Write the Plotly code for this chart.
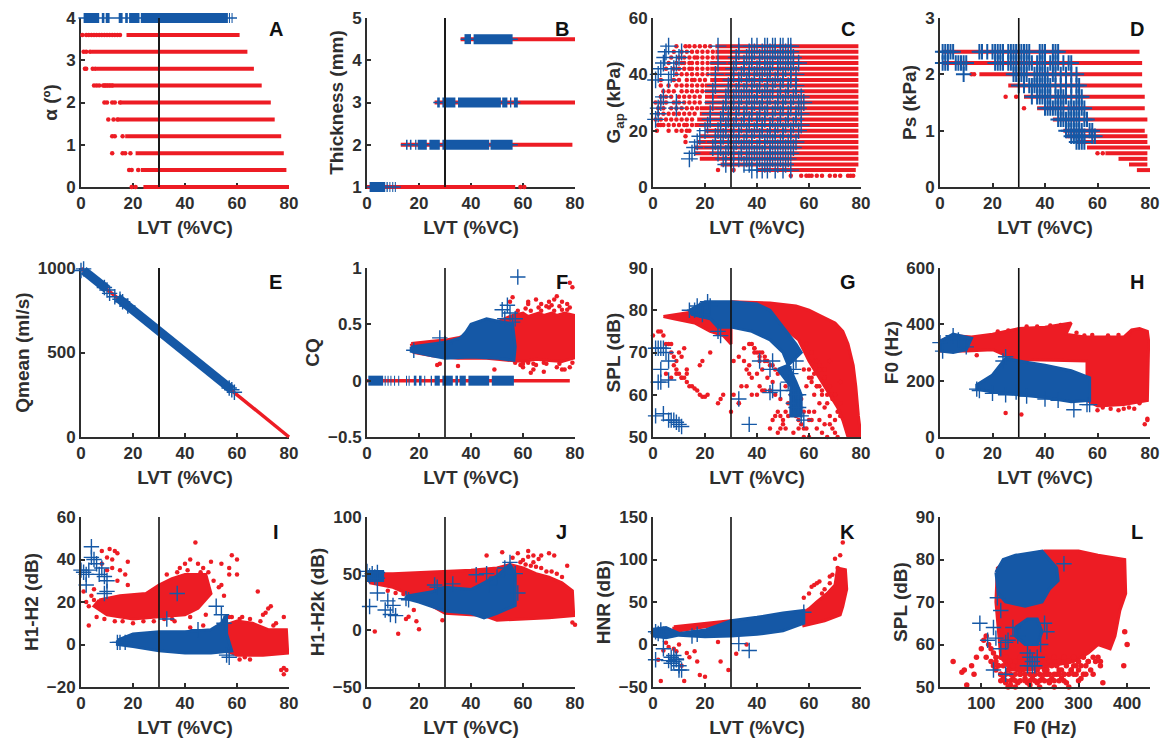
import plotly.graph_objects as go

RED = "#ED1C24"
BLUE = "#1558A6"
INK = "#2E2E2E"
W, H = 1168, 745

# ---------- A ----------
a_levels = [3.6, 3.2, 2.8, 2.4, 2.0, 1.6, 1.2, 0.8, 0.4, 0.0]
a_start = [17.5, 4, 6, 10, 15, 14, 17, 21, 23, 24]
a_end = [61, 64, 66.5, 69.5, 73, 74.5, 77, 78, 79, 80]
a_dots_x = [0.5, 2, 3, 4, 5, 6, 7, 8, 9, 10, 11, 12, 13, 14, 15, 1, 2, 3.5, 1.5, 2, 4.5, 5.5, 5, 6, 7, 8.5, 9, 9.5, 10, 11, 12, 9, 10, 12, 13, 15, 10.5, 12.5, 14, 12, 13, 16, 12, 16, 17, 19, 18.5, 19.5, 22, 19.5, 21]
a_dots_y = [3.6, 3.6, 3.6, 3.6, 3.6, 3.6, 3.6, 3.6, 3.6, 3.6, 3.6, 3.6, 3.6, 3.6, 3.6, 3.2, 3.2, 3.2, 2.8, 2.8, 2.8, 2.8, 2.4, 2.4, 2.4, 2.4, 2.4, 2.4, 2.4, 2.4, 2.4, 2.0, 2.0, 2.0, 2.0, 2.0, 1.6, 1.6, 1.6, 1.2, 1.2, 1.2, 0.8, 0.8, 0.8, 0.8, 0.4, 0.4, 0.4, 0.0, 0.0]
a_blue_start = [1, 8, 9.5, 14.5, 17, 18.5, 23, 56.9, 57.9]
a_blue_end = [7, 9, 11, 16, 18, 22.5, 56.5, 57.3, 58.3]

# ---------- B ----------
b_levels = [1, 2, 3, 4.5]
b_red_start = [0, 13, 26, 36]
b_red_end = [57, 79, 80, 80]
b_thin_start = [0, 13, 25.5, 36]
b_thin_end = [13, 58, 59, 58]
b_dots_x = [59, 60.5]
b_dots_y = [1, 1]
b_blue_start = [1, 7.5, 8.6, 9.7, 10.7, 15, 16.5, 18.5, 19.5, 24, 29, 47.5, 27, 29, 35, 52, 55, 56.5, 37.5, 41]
b_blue_end = [7, 8, 9, 10.1, 11.1, 15.6, 17.1, 19, 23, 28, 47, 56, 28, 34, 51.5, 54, 55.5, 58, 40, 56]
b_blue_y = [1, 1, 1, 1, 1, 2, 2, 2, 2, 2, 2, 2, 3, 3, 3, 3, 3, 3, 4.5, 4.5]

# ---------- C ----------
c_levels = [50, 48, 46, 44, 42, 40, 38, 36, 34, 32, 30, 28, 26, 24, 22, 20, 18, 16, 14, 12, 10, 8, 6]
c_start = [24, 24, 24, 22, 22, 22, 22, 20, 20, 20, 20, 18, 18, 17, 16, 20, 18, 17, 16, 16, 18, 26, 40]
c_end = [79, 79, 79, 79, 79, 79, 79, 79, 79, 79, 79, 79, 79, 79, 79, 79, 79, 79, 79, 79, 79, 79, 78]
c_dots_x = [9, 12.5, 14, 16, 18, 20, 22, 8, 11, 13, 15, 17, 19, 21, 23, 7, 10, 12, 14, 16, 17, 19, 21, 23, 6, 9, 11, 12, 14, 15, 17, 19, 21, 5, 8, 10, 12, 14, 15, 17, 19, 21, 9, 11, 13, 15, 17, 19, 21, 3, 8, 10, 13, 15, 16, 18, 20, 3, 6, 9, 11, 13, 15, 17, 19, 4, 6, 8, 11, 13, 15, 17, 19, 3, 5, 7, 10, 12, 14, 16, 18, 1, 3, 5, 8, 10, 12, 14, 16, 18, 2, 4, 7, 9, 11, 13, 15, 17, 2, 4, 6, 8, 10, 12, 14, 16, 1, 3, 5, 7, 9, 11, 13, 15, 2, 3, 4, 6, 8, 10, 12, 13, 15, 1.5, 6, 9, 11, 13, 14, 12.5, 12.5, 25, 31, 53, 57, 59, 60, 61, 63, 65, 68, 70, 72, 75, 76, 77]
c_dots_y = [50]*7 + [48]*8 + [46]*9 + [44]*9 + [42]*9 + [40]*7 + [38]*8 + [36]*8 + [34]*8 + [32]*8 + [30]*9 + [28]*8 + [26]*8 + [24]*8 + [22]*9 + [20]*6 + [18, 16, 6, 6] + [4]*13
c_blue_x = [1, 2, 3, 4, 4.5, 5, 6, 1, 2, 2, 3, 4, 6, 7, 8, 9, 10, 11, 9, 9, 14, 15, 16, 17, 18, 20, 21, 22, 22, 23, 23, 24, 24, 25, 25,
            33, 38, 40, 43, 44, 46, 47, 49, 50, 52, 53, 33, 37, 39, 42, 45, 47, 49, 51, 53, 32, 36, 38, 41, 43, 46, 48, 50, 52, 54, 32, 35, 38, 41, 44, 46, 49, 52, 54, 56,
            31, 35, 37, 40, 43, 45, 48, 51, 53, 31, 34, 37, 39, 42, 45, 48, 50, 53, 55, 30, 33, 36, 39, 41, 44, 47, 50, 53, 29, 33, 36, 38, 41, 44, 46, 49, 52, 55, 29, 32, 35, 38, 40, 43, 46, 49, 52, 55,
            28, 31, 34, 37, 40, 42, 45, 48, 51, 54, 57, 28, 31, 33, 36, 39, 42, 44, 48, 50, 53, 56, 58, 27, 30, 33, 36, 38, 41, 44, 47, 50, 53, 56, 27, 29, 32, 35, 38, 41, 43, 46, 49, 52, 55, 57, 26, 29, 32, 35, 37, 40, 43, 46, 49, 52, 55,
            26, 28, 31, 34, 37, 40, 42, 45, 48, 51, 54, 57, 25, 28, 31, 33, 36, 39, 42, 45, 47, 50, 53, 56, 24, 27, 30, 33, 36, 38, 41, 44, 47, 50, 53, 24, 26, 29, 32, 35, 38, 41, 43, 46, 49, 52, 55,
            23, 26, 29, 31, 34, 37, 40, 43, 45, 48, 51, 54, 25, 28, 31, 34, 36, 39, 42, 45, 47, 50, 53, 27, 30, 33, 36, 38, 41, 44, 46, 49, 52, 28, 31, 35, 37, 40, 43, 45, 48, 51, 38, 40, 42, 44, 47, 50, 53]
c_blue_y = [38, 40, 42, 44, 46, 48, 50, 24, 26, 28, 30, 32, 38, 40, 42, 44, 46, 48, 28, 30, 10, 12, 14, 16, 18, 20, 22, 24, 26, 30, 34, 36, 40, 44, 50,
            50, 50, 50, 50, 50, 50, 50, 50, 50, 50, 50, 48, 48, 48, 48, 48, 48, 48, 48, 48, 46, 46, 46, 46, 46, 46, 46, 46, 46, 46, 44, 44, 44, 44, 44, 44, 44, 44, 44, 44,
            42, 42, 42, 42, 42, 42, 42, 42, 42, 40, 40, 40, 40, 40, 40, 40, 40, 40, 40, 38, 38, 38, 38, 38, 38, 38, 38, 38, 36, 36, 36, 36, 36, 36, 36, 36, 36, 36, 34, 34, 34, 34, 34, 34, 34, 34, 34, 34,
            32, 32, 32, 32, 32, 32, 32, 32, 32, 32, 32, 30, 30, 30, 30, 30, 30, 30, 30, 30, 30, 30, 30, 28, 28, 28, 28, 28, 28, 28, 28, 28, 28, 28, 26, 26, 26, 26, 26, 26, 26, 26, 26, 26, 26, 26, 24, 24, 24, 24, 24, 24, 24, 24, 24, 24, 24,
            22, 22, 22, 22, 22, 22, 22, 22, 22, 22, 22, 22, 20, 20, 20, 20, 20, 20, 20, 20, 20, 20, 20, 20, 18, 18, 18, 18, 18, 18, 18, 18, 18, 18, 18, 16, 16, 16, 16, 16, 16, 16, 16, 16, 16, 16, 16,
            14, 14, 14, 14, 14, 14, 14, 14, 14, 14, 14, 14, 12, 12, 12, 12, 12, 12, 12, 12, 12, 12, 12, 10, 10, 10, 10, 10, 10, 10, 10, 10, 10, 8, 8, 8, 8, 8, 8, 8, 8, 8, 6, 6, 6, 6, 6, 6, 6]

# ---------- D ----------
d_levels = [2.4, 2.2, 2.0, 1.8, 1.6, 1.4, 1.2, 1.0, 0.9, 0.8, 0.7, 0.6, 0.5, 0.4, 0.3]
d_start = [1, 1, 15, 26, 32, 37, 43, 47, 48, 52, 56, 63, 68, 72, 75]
d_end = [76, 77, 77, 77, 78, 78, 79, 78, 79, 79, 80, 79, 79, 79, 80]
d_dots_x = [12, 13, 25, 29, 32, 60, 62]
d_dots_y = [2.0, 2.0, 1.6, 1.6, 1.4, 0.6, 0.6]
d_blue_x = [1, 2, 3, 4, 5, 15, 16, 18, 20, 21, 22, 23, 24, 26, 27, 28, 29, 30, 31, 32, 33, 34, 38, 39, 40, 43, 44, 45,
            1, 2, 3, 6, 7, 8, 9, 10, 21, 22, 23, 24, 26, 27, 28, 29, 30, 31, 32, 33, 34, 35, 37, 38, 39, 40, 42, 43, 44, 45, 47, 49, 50,
            9, 28, 29, 30, 31, 32, 33, 36, 37, 38, 39, 40, 41, 43, 44, 46, 48, 50, 52,
            30, 32, 34, 35, 36, 37, 38, 39, 40, 41, 42, 44, 46, 48, 50, 52, 53,
            35, 37, 38, 39, 40, 41, 42, 44, 45, 46, 47, 48, 50, 52, 53, 54,
            40, 41, 42, 43, 44, 45, 46, 47, 49, 50, 51, 52, 53, 54, 55,
            45, 46, 47, 48, 49, 50, 51, 52, 53, 55, 56,
            48, 49, 50, 51, 52, 53, 54, 57, 58,
            50, 51, 52, 53, 54, 55, 58, 59,
            52, 53, 54, 55]
d_blue_y = [2.4]*28 + [2.2]*33 + [2.0]*19 + [1.8]*17 + [1.6]*16 + [1.4]*15 + [1.2]*11 + [1.0]*9 + [0.9]*8 + [0.8]*4

# ---------- E ----------
e_red_x = [0, 80]
e_red_y = [998, 0]
e_blue_x = [1, 10, None, 14, 58]
e_blue_y = [985, 875, None, 825, 280]
e_cross_x = [0, 1, 9, 10, 11, 13, 15, 16, 18, 57, 58, 59]
e_cross_y = [985, 995, 885, 870, 850, 830, 815, 800, 775, 290, 280, 265]

# ---------- F ----------
f_red_x = [17, 20, 25, 30, 35, 40, 45, 50, 56, 60, 62, 66, 68, 71, 73, 76, 79.5, 79.5, 75, 70, 65, 60, 55, 45, 35, 25, 18]
f_red_y = [0.33, 0.34, 0.35, 0.36, 0.38, 0.42, 0.48, 0.52, 0.58, 0.6, 0.57, 0.6, 0.58, 0.6, 0.58, 0.6, 0.58, 0.2, 0.17, 0.18, 0.19, 0.17, 0.18, 0.2, 0.2, 0.22, 0.25]
f_blue_x = [17, 24, 30, 36, 38, 40, 46, 50, 56, 57, 56.5, 50, 40, 30, 25, 17]
f_blue_y = [0.3, 0.32, 0.34, 0.38, 0.43, 0.5, 0.55, 0.53, 0.5, 0.3, 0.18, 0.2, 0.21, 0.2, 0.22, 0.26]
f_dots_x = [79, 78, 75, 73, 65, 70, 62, 56, 55, 62, 64, 63, 68, 73, 75, 76, 78, 35, 49, 60, 27, 28, 77, 78, 72, 61, 66, 69, 70, 67, 74, 71, 65, 59, 58, 63, 67, 75, 77, 72, 64, 69, 57, 60, 62, 68, 74, 79]
f_dots_y = [0.83, 0.87, 0.7, 0.75, 0.72, 0.65, 0.68, 0.74, 0.7, 0.7, 0.1, 0.07, 0.08, 0.12, 0.1, 0.1, 0.12, 0.13, 0.1, 0.12, 0.14, 0.15, 0.68, 0.65, 0.72, 0.64, 0.65, 0.66, 0.7, 0.68, 0.66, 0.67, 0.14, 0.14, 0.62, 0.62, 0.62, 0.63, 0.63, 0.62, 0.15, 0.15, 0.16, 0.15, 0.16, 0.16, 0.15, 0.16]
f_zero_start = [0.5, 6.8, 7.9, 9, 10.4, 12, 15, 16, 18, 20, 22, 24.5, 26, 29, 34, 35.6, 39, 48]
f_zero_end = [6.2, 7.2, 8.3, 9.4, 10.8, 12.4, 15.4, 16.4, 19, 21, 22.4, 25, 28, 33, 35, 38, 47, 56.5]
f_cross_x = [58, 52, 54, 55, 57, 56, 28, 30, 18, 53]
f_cross_y = [0.92, 0.63, 0.67, 0.6, 0.55, 0.52, 0.38, 0.33, 0.27, 0.55]

# ---------- G ----------
g_red_a_x = [30, 45, 55, 60, 65, 70, 73, 75, 77, 78, 79, 80, 75, 73, 71, 68, 64, 60, 56, 50]
g_red_a_y = [82, 81.7, 81, 80, 78.5, 77, 75, 72, 67, 62, 55, 50, 50, 54, 57, 60, 64, 68, 73, 76]
g_red_b_x = [4, 15, 30, 30, 27, 22, 16, 8]
g_red_b_y = [78.5, 79.5, 81, 72, 74, 75, 77, 78]
g_blue_a_x = [14, 20, 30, 40, 45, 50, 55, 57, 52, 50, 45, 38, 30, 25, 22, 15]
g_blue_a_y = [80, 82, 82, 81.5, 80, 76, 72, 70, 67, 70, 73, 75, 76, 76, 78, 79]
g_blue_b_x = [48, 52, 55, 57, 57, 53, 53]
g_blue_b_y = [66, 67, 63, 60, 55, 55, 62]
g_dots_x = [0, 2, 3, 4, 5, 6, 7, 8, 9, 10, 11, 12, 5, 7, 9, 11, 13, 8, 9, 10, 11, 12, 13, 14, 15, 16, 17, 18, 19, 20, 21, 25, 26, 27, 30, 31, 33, 34, 22, 19, 18, 13, 7,
            38, 39, 40, 41, 42, 43, 44, 45, 46, 47, 48, 36, 37, 38, 40, 42, 44, 46, 41, 43, 45, 47, 49, 51, 53, 52, 54, 55, 56, 58, 46, 47, 48, 49, 50, 51, 52, 50, 51, 48, 49, 45, 36, 38, 40, 42, 54, 56, 57, 58, 60, 61, 62, 63, 64, 65, 66, 67, 68, 69, 70, 71, 72, 60, 62, 64, 66, 68, 70, 59, 61, 63, 65, 67, 69, 71, 60, 62, 64, 66, 68, 70, 72, 58, 60, 64, 66, 68, 72, 70,
            57, 59, 61, 63, 58, 60, 62, 64, 66, 59, 61, 63, 65, 67, 69, 33, 35, 37, 39, 41, 43, 31, 33, 35, 37, 39, 41]
g_dots_y = [74, 75, 75, 74, 72, 72, 70, 69, 68, 70, 69, 71, 65, 64, 65, 64, 65, 67, 66, 65, 64, 64, 63, 62, 62, 61.5, 61, 60, 59.5, 59.5, 60, 58, 59, 60, 56, 60, 58, 62, 70, 68, 67, 66, 72,
            72, 71, 70, 69, 70, 68, 68, 67, 67, 66, 65, 66, 65, 64, 65, 66, 64, 63, 62, 61, 61, 60, 59, 62, 60, 58, 57, 55, 54, 52, 54, 55, 56, 55, 54, 56, 55, 53, 52, 51, 52, 52, 62, 60, 60, 61, 51, 52, 53, 50, 50, 54, 56, 52, 54, 51, 53, 50, 53, 52, 51, 50, 55, 56, 60, 58, 57, 55, 54, 52, 64, 62, 60, 58, 60, 56, 54, 68, 66, 64, 62, 60, 58, 56, 64, 62, 66, 68, 63, 60, 59,
            72, 70, 68, 66, 66, 65, 67, 64, 62, 63, 62, 61, 60, 59, 58, 71, 72, 71, 70, 69, 68, 69, 68, 67, 70, 68, 66]
g_cross_x = [14, 16, 17, 18, 19, 21, 22, 25, 26, 1, 2, 3, 4, 5, 6, 3, 2, 3, 6, 1, 4, 6, 7, 8, 9, 10, 11, 33, 37, 41, 45, 46, 45, 46, 49, 52, 54, 55, 56, 54, 55, 56, 57, 58, 54, 55, 53]
g_cross_y = [80, 80, 81, 80, 79, 82, 81, 75, 74, 71, 71, 71, 71, 70, 68, 66, 63, 63, 63.5, 55, 55.5, 54, 54, 54, 53.5, 53, 52.5, 59, 53, 68, 66, 68, 60.5, 61, 61, 63, 61, 60, 60, 58, 57, 57, 55, 54, 66, 68, 65]

# ---------- H ----------
h_red_x = [0, 0, 5, 12, 20, 30, 40, 50, 48, 55, 70, 73, 76, 79, 79.5, 79, 79, 70, 60, 56, 56, 30, 25, 20, 10, 0]
h_red_y = [305, 340, 360, 355, 365, 385, 390, 405, 365, 355, 355, 380, 385, 375, 340, 200, 130, 115, 110, 130, 270, 275, 290, 310, 305, 305]
h_blue_a_x = [0, 0, 5, 12, 10, 5]
h_blue_a_y = [305, 340, 365, 350, 310, 300]
h_blue_b_x = [25, 30, 40, 50, 57, 57, 50, 40, 30, 20, 14, 14, 20]
h_blue_b_y = [280, 270, 255, 235, 210, 130, 125, 140, 150, 160, 170, 185, 220]
h_dots_x = [25, 31, 78, 79, 79, 60, 65, 70, 72, 76, 62, 68, 74, 14, 22, 26, 33, 37, 42, 46, 52, 55, 58, 64, 68, 72]
h_dots_y = [85, 80, 45, 60, 65, 95, 100, 100, 105, 120, 105, 95, 100, 290, 375, 378, 392, 392, 396, 398, 370, 360, 362, 360, 362, 365]
h_cross_x = [0, 1, 14, 15, 20, 25, 29, 33, 51, 56, 57, 24, 25, 10, 5, 7, 40, 45]
h_cross_y = [335, 305, 170, 165, 155, 150, 160, 145, 97, 115, 115, 270, 285, 320, 360, 345, 135, 130]

# ---------- I ----------
i_red_a_x = [7, 15, 25, 30, 35, 40, 48, 50, 45, 40, 30, 20, 10, 5]
i_red_a_y = [21, 23, 24, 28, 31, 33, 33, 24, 17, 14, 13, 12, 14, 18]
i_red_b_x = [55, 60, 66, 72, 79, 79.5, 70, 60, 56]
i_red_b_y = [9, 11, 10, 7, 7, -4, -5, -5, -3]
i_blue_x = [14, 20, 30, 40, 50, 54, 56, 56, 58, 50, 40, 30, 20, 14]
i_blue_y = [2, 5, 6, 6, 7, 10, 14, 5, -3, -4, -4, -3, -1, 0]
i_dots_x = [8, 10, 11, 12, 13, 14, 8, 12, 10, 15, 17, 18, 5, 4, 1, 2, 3, 5, 14, 18, 3, 44, 42, 38, 40, 45, 47, 50, 54, 57, 58, 60, 60, 57, 54, 68, 72, 71, 73, 75, 78, 78, 79, 78, 77, 61, 63, 65, 42, 47, 53, 58, 62, 70,
            6, 9, 13, 16, 20, 24, 28, 32, 36, 33, 37, 41, 46, 49, 51, 53, 55, 57, 61, 65, 69, 74, 35, 42, 48]
i_dots_y = [44, 41, 45, 40, 44, 43, 38, 36, 35, 35, 33, 39, 26, 23, 25, 20, 18, 21, 30, 28, 9, 48, 40, 36, 38, 38, 36, 39, 38, 36, 42, 40, 33, 33, 28, 25, 17, 15, 18, 10, 13, -11, -12, -14, -12, -7, -6, -7, 8, 9, 9, 13, 13, 14,
            13, 12, 11, 11, 10, 11, 11, 12, 11, 33, 34, 35, 34, 34, 30, 27, 23, 13, 12, 12, 11, 9, 12, 13, 14]
i_cross_x = [0, 1, 2, 3, 4, 4, 5, 6, 7, 8, 9, 10, 2, 9, 10, 33, 37, 45, 52, 54, 55, 56, 57, 14, 15, 17]
i_cross_y = [35, 34, 33, 35, 46, 41, 40, 38, 33, 36, 32, 30, 28, 24, 25, 12, 24, 7, 18, 14, 10, -5, -6, 1, 1, 1]

# ---------- J ----------
j_red_x = [1, 1, 10, 30, 40, 50, 55, 60, 65, 70, 75, 79, 79.5, 70, 60, 50, 45, 30, 20, 10]
j_red_y = [42, 50, 50, 52, 53, 55, 58, 55, 50, 47, 42, 35, 13, 11, 10, 9, 13, 15, 28, 38]
j_blue_a_x = [15, 25, 30, 40, 45, 50, 55, 57, 57, 50, 45, 40, 30, 20, 15]
j_blue_a_y = [30, 34, 38, 36, 42, 48, 58, 50, 22, 15, 11, 15, 17, 25, 28]
j_blue_b_x = [0, 0, 6, 6]
j_blue_b_y = [44, 52, 52, 44]
j_dots_x = [3, 12, 20, 19, 29, 15, 16, 18, 46, 52, 56, 62, 67, 70, 72, 77, 58, 64, 80, 79, 60, 62, 64, 66, 59, 61, 63, 65, 67, 69, 71, 73, 75, 8, 11, 14, 17, 20]
j_dots_y = [-1, -3, 1, 8, 9, 10, 12, 18, 66, 69, 64, 70, 66, 68, 66, 57, 68, 66, 5, 7, 62, 65, 60, 63, 60, 58, 57, 56, 55, 52, 52, 50, 47, 35, 33, 32, 31, 29]
j_cross_x = [0, 1, 2, 3, 4, 4, 1, 4, 7, 8, 9, 10, 11, 15, 16, 26, 27, 33, 42, 46, 47, 50, 53, 55, 57, 58]
j_cross_y = [52, 48, 50, 47, 51, 46, 21, 33, 18, 26, 14, 22, 13, 28, 27, 40, 38, 41, 49, 50, 40, 47, 55, 60, 50, 33]

# ---------- K ----------
k_red_a_x = [57, 60, 63, 67, 70, 71, 74, 74.5, 73, 72, 66, 58]
k_red_a_y = [36, 42, 50, 60, 70, 90, 88, 65, 45, 35, 28, 22]
k_red_b_x = [8, 20, 30, 30, 20, 8]
k_red_b_y = [21, 25, 28, 25, 21, 15]
k_blue_x = [0, 5, 10, 20, 30, 40, 50, 58, 58, 50, 40, 30, 20, 10, 5, 0]
k_blue_y = [18, 20, 13, 17, 28, 32, 37, 40, 25, 16, 12, 10, 9, 11, 8, 10]
k_dots_x = [73, 72, 70, 71, 68, 64, 62, 60, 58, 61, 63, 3, 12, 18, 20, 26, 29, 16, 14, 8, 6, 11, 13, 17, 10, 5, 32, 36, 25, 2, 4, 9, 66, 68, 65, 69]
k_dots_y = [120, 105, 101, 90, 80, 74, 70, 60, 55, 68, 72, -43, -43, -36, -38, -20, -30, -8, -15, -5, -3, -25, -10, -20, 0, 2, -11, 0, 3, -18, -7, -8, 65, 72, 60, 82]
k_cross_x = [1, 2, 3, 4, 15, 17, 58, 33, 37, 4, 1, 7, 8, 9, 10, 11, 8, 9, 7, 10, 6]
k_cross_y = [15, 13, 17, 12, 10, 12, 38, 1, -7, -5, -18, -15, -20, -17, -25, -30, -13, -18, -22, -30, -19]

# ---------- L ----------
l_red_x = [145, 170, 230, 300, 340, 395, 397, 385, 375, 365, 340, 320, 290, 200, 160, 140, 130, 133]
l_red_y = [79, 80.5, 82, 82, 81, 80, 72, 68, 62, 59, 60, 58, 56, 54, 54, 57, 70, 78]
l_blue_a_x = [130, 145, 170, 225, 255, 258, 240, 225, 190, 150, 135]
l_blue_a_y = [77, 80, 81, 82, 78, 75, 73, 70, 69, 70, 72]
l_blue_b_x = [170, 195, 215, 225, 215, 190, 170]
l_blue_b_y = [64, 66, 66, 63, 60, 60, 62]
l_dots_x = [42, 60, 65, 70, 80, 85, 90, 100, 105, 110, 115, 120, 125, 130, 135, 140, 145, 150, 155, 160, 165, 170, 175, 180, 185, 190, 195, 200, 205, 210, 215, 220, 225, 230, 235, 240, 245, 250, 255, 260, 265, 270, 275, 280, 285, 290, 295, 300, 305, 310, 315, 320, 325, 330, 335, 340, 345, 350, 395, 400, 393, 345,
            110, 120, 130, 140, 150, 160, 170, 180, 190, 200, 210, 220, 230, 240, 250, 260, 270, 280, 290, 300, 310, 320, 330, 125, 135, 145, 155, 165, 175, 185, 195, 205, 215, 225, 235, 245, 255, 265, 275, 285, 295, 305, 315, 130, 140, 150, 160, 170, 180, 190, 200, 210, 220, 230, 240, 250, 260, 270, 280, 290, 300, 140, 150, 160, 170, 180, 190, 200, 210, 220, 230, 240, 250, 260, 270, 280]
l_dots_y = [56, 53.5, 54, 50.5, 55, 53, 57, 59, 61, 62, 60, 59, 58, 57, 55, 53, 52, 51, 50, 50.5, 52, 50, 51, 53, 54, 52, 51, 50.5, 52, 53, 51, 50, 52, 54, 53, 51, 52, 50, 53, 54, 52, 53, 51, 50, 54, 55, 53, 54, 52, 53, 55, 56, 54, 53, 56, 57, 55, 51, 63, 60, 55, 56,
            57, 56, 56, 57, 57, 56, 56, 57, 57, 56, 57, 56, 57, 56, 57, 56, 57, 56, 57, 56, 57, 56, 57, 55, 55, 55, 54, 55, 54, 55, 55, 55, 54, 55, 54, 55, 55, 54, 55, 54, 55, 55, 53, 54, 53, 53, 53, 53, 53, 53, 53, 53, 53, 53, 53, 53, 53, 53, 53, 53, 51.5, 51.5, 51.5, 51.5, 51.5, 51.5, 51.5, 51.5, 51.5, 51.5, 51.5, 51.5, 51.5, 51.5, 51.5]
l_cross_x = [97, 125, 113, 130, 140, 150, 155, 125, 150, 195, 200, 205, 210, 215, 195, 205, 222, 165, 175, 230, 235, 133, 140, 270]
l_cross_y = [65, 64, 61, 61.5, 59, 60.5, 61, 54, 53, 58, 57, 56, 55, 57, 55, 55, 60, 64, 62, 65, 63, 71, 68, 79]

# ---------- axes and labels ----------
panel_letters = list("ABCDEFGHIJKL")
y_titles = ["α (º)", "Thickness (mm)", "G<sub>ap</sub> (kPa)", "Ps (kPa)", "Qmean (ml/s)", "CQ", "SPL (dB)", "F0 (Hz)", "H1-H2 (dB)", "H1-H2k (dB)", "HNR (dB)", "SPL (dB)"]
y_ranges = [[0, 4], [1, 5], [0, 60], [0, 3], [0, 1000], [-0.5, 1], [50, 90], [0, 600], [-20, 60], [-50, 100], [-50, 150], [50, 90]]
y_ticks = [[0, 1, 2, 3, 4], [1, 2, 3, 4, 5], [0, 20, 40, 60], [0, 1, 2, 3], [0, 500, 1000], [-0.5, 0, 0.5, 1], [50, 60, 70, 80, 90], [0, 200, 400, 600], [-20, 0, 20, 40, 60], [-50, 0, 50, 100], [-50, 0, 50, 100, 150], [50, 60, 70, 80, 90]]
x_ticks_lvt = [0, 20, 40, 60, 80]
x_ticks_f0 = [100, 200, 300, 400]
x_range_lvt = [0, 80]
x_range_f0 = [15, 447]
col_left = [81, 367, 653, 940]
col_right = [289, 575, 861, 1150]
row_top = [18, 268, 517]
row_bottom = [187, 437, 687]
letter_y = [0.935, 0.917, 0.912]
cut_line_x = 30
unclipped_panels = [0, 1, 4]   # their thick marks sit on the axis edges
PAD = 12

fig = go.Figure()


def base_axes(i):
    return ("x" if i == 0 else f"x{i+1}", "y" if i == 0 else f"y{i+1}")


def axn(i):
    if i in unclipped_panels:
        return (f"x{i+13}", f"y{i+13}")
    return base_axes(i)


def vline(xa, ya, i):
    fig.add_trace(go.Scatter(x=[cut_line_x, cut_line_x], y=y_ranges[i], mode="lines", xaxis=xa, yaxis=ya,
                             line=dict(color="#111111", width=1.6), showlegend=False, hoverinfo="skip"))


def segs(p, xs0, xs1, ys, color, width):
    X, Y = [], []
    for a, b, y in zip(xs0, xs1, ys):
        X += [a, b, None]
        Y += [y, y, None]
    xa, ya = axn(p)
    fig.add_trace(go.Scatter(x=X, y=Y, mode="lines", xaxis=xa, yaxis=ya, cliponaxis=False,
                             line=dict(color=color, width=width), showlegend=False, hoverinfo="skip"))


def dots(p, x, y, size=4.5):
    xa, ya = axn(p)
    fig.add_trace(go.Scatter(x=x, y=y, mode="markers", xaxis=xa, yaxis=ya, cliponaxis=False,
                             marker=dict(color=RED, size=size), showlegend=False, hoverinfo="skip"))


def cross(p, x, y, size=11, lw=1.4):
    xa, ya = axn(p)
    fig.add_trace(go.Scatter(x=x, y=y, mode="markers", xaxis=xa, yaxis=ya, cliponaxis=False,
                             marker=dict(symbol="cross-thin", size=size, line=dict(color=BLUE, width=lw)),
                             showlegend=False, hoverinfo="skip"))


def blob(p, x, y, color):
    xa, ya = axn(p)
    fig.add_trace(go.Scatter(x=x + x[:1], y=y + y[:1], mode="lines", fill="toself", fillcolor=color, xaxis=xa, yaxis=ya,
                             line=dict(color=color, width=3), showlegend=False, hoverinfo="skip"))


def line(p, x, y, color, width):
    xa, ya = axn(p)
    fig.add_trace(go.Scatter(x=x, y=y, mode="lines", xaxis=xa, yaxis=ya, cliponaxis=False,
                             line=dict(color=color, width=width), showlegend=False, hoverinfo="skip"))


# the visible axes of the widened panels need a trace of their own to be drawn
for i in unclipped_panels:
    xa, ya = base_axes(i)
    vline(xa, ya, i)

# A
segs(0, a_start, a_end, a_levels, RED, 4)
dots(0, a_dots_x, a_dots_y)
segs(0, [-1], [60], [4], BLUE, 1.5)
segs(0, a_blue_start, a_blue_end, [4] * len(a_blue_start), BLUE, 10)
# B
segs(1, b_red_start, b_red_end, b_levels, RED, 4)
dots(1, b_dots_x, b_dots_y)
segs(1, b_thin_start, b_thin_end, b_levels, BLUE, 1.5)
segs(1, b_blue_start, b_blue_end, b_blue_y, BLUE, 10)
# C
segs(2, c_start, c_end, c_levels, RED, 4)
dots(2, c_dots_x, c_dots_y)
cross(2, c_blue_x, c_blue_y, 12)
# D
segs(3, d_start, d_end, d_levels, RED, 4)
dots(3, d_dots_x, d_dots_y)
cross(3, d_blue_x, d_blue_y, 11, 2)
# E
line(4, e_red_x, e_red_y, RED, 3.5)
line(4, e_blue_x, e_blue_y, BLUE, 9)
cross(4, e_cross_x, e_cross_y)
# F
segs(5, [0], [78], [0], RED, 3.5)
blob(5, f_red_x, f_red_y, RED)
dots(5, f_dots_x, f_dots_y)
blob(5, f_blue_x, f_blue_y, BLUE)
segs(5, f_zero_start, f_zero_end, [0] * len(f_zero_start), BLUE, 10)
cross(5, f_cross_x, f_cross_y)
# G
blob(6, g_red_a_x, g_red_a_y, RED)
blob(6, g_red_b_x, g_red_b_y, RED)
dots(6, g_dots_x, g_dots_y)
blob(6, g_blue_a_x, g_blue_a_y, BLUE)
blob(6, g_blue_b_x, g_blue_b_y, BLUE)
cross(6, g_cross_x, g_cross_y)
# H
blob(7, h_red_x, h_red_y, RED)
dots(7, h_dots_x, h_dots_y)
blob(7, h_blue_a_x, h_blue_a_y, BLUE)
blob(7, h_blue_b_x, h_blue_b_y, BLUE)
cross(7, h_cross_x, h_cross_y)
# I
blob(8, i_red_a_x, i_red_a_y, RED)
blob(8, i_red_b_x, i_red_b_y, RED)
dots(8, i_dots_x, i_dots_y)
blob(8, i_blue_x, i_blue_y, BLUE)
cross(8, i_cross_x, i_cross_y)
# J
blob(9, j_red_x, j_red_y, RED)
dots(9, j_dots_x, j_dots_y)
blob(9, j_blue_a_x, j_blue_a_y, BLUE)
blob(9, j_blue_b_x, j_blue_b_y, BLUE)
cross(9, j_cross_x, j_cross_y)
# K
blob(10, k_red_a_x, k_red_a_y, RED)
blob(10, k_red_b_x, k_red_b_y, RED)
dots(10, k_dots_x, k_dots_y)
blob(10, k_blue_x, k_blue_y, BLUE)
cross(10, k_cross_x, k_cross_y)
# L
blob(11, l_red_x, l_red_y, RED)
dots(11, l_dots_x, l_dots_y, 5.5)
blob(11, l_blue_a_x, l_blue_a_y, BLUE)
blob(11, l_blue_b_x, l_blue_b_y, BLUE)
cross(11, l_cross_x, l_cross_y)

layout = dict(width=W, height=H, margin=dict(l=0, r=0, t=0, b=0), paper_bgcolor="white", plot_bgcolor="rgba(0,0,0,0)",
              showlegend=False)
annotations = []
tick_font = dict(family="Liberation Sans", size=17, color=INK, weight=700)
title_font = dict(family="Liberation Sans", size=19, color=INK, weight=700)
for i in range(12):
    r, c = i // 4, i % 4
    suffix = "" if i == 0 else str(i + 1)
    is_l = i == 11
    xr = x_range_f0 if is_l else x_range_lvt
    layout["xaxis" + suffix] = dict(
        domain=[col_left[c] / W, col_right[c] / W], anchor="y" + suffix, automargin=False,
        range=xr, tickvals=x_ticks_f0 if is_l else x_ticks_lvt,
        ticks="inside", ticklen=4, tickwidth=1.5, tickcolor=INK, showgrid=False, zeroline=False,
        showline=True, linecolor=INK, linewidth=2, tickfont=tick_font,
        title=dict(text="F0 (Hz)" if is_l else "LVT (%VC)", font=title_font, standoff=8))
    layout["yaxis" + suffix] = dict(
        domain=[1 - row_bottom[r] / H, 1 - row_top[r] / H], anchor="x" + suffix, automargin=False,
        range=y_ranges[i], tickvals=y_ticks[i],
        ticks="inside", ticklen=4, tickwidth=1.5, tickcolor=INK, showgrid=False, zeroline=False,
        showline=True, linecolor=INK, linewidth=2, tickfont=tick_font,
        title=dict(text=y_titles[i], font=title_font, standoff=3))
    annotations.append(dict(text=panel_letters[i], x=0.937, y=letter_y[r], xref=f"x{suffix} domain", yref=f"y{suffix} domain",
                            xanchor="center", yanchor="middle", showarrow=False,
                            font=dict(family="Liberation Sans", size=20, color="#111111", weight=700)))
    if i in unclipped_panels:
        # hidden companion axes: same data scale, a little wider, so edge marks are not cut
        xs = (xr[1] - xr[0]) / (col_right[c] - col_left[c])
        ys = (y_ranges[i][1] - y_ranges[i][0]) / (row_bottom[r] - row_top[r])
        layout[f"xaxis{i+13}"] = dict(
            domain=[(col_left[c] - PAD) / W, (col_right[c] + PAD) / W], anchor=f"y{i+13}", visible=False,
            range=[xr[0] - PAD * xs, xr[1] + PAD * xs], automargin=False, fixedrange=True)
        layout[f"yaxis{i+13}"] = dict(
            domain=[1 - (row_bottom[r] + PAD) / H, 1 - (row_top[r] - PAD) / H], anchor=f"x{i+13}", visible=False,
            range=[y_ranges[i][0] - PAD * ys, y_ranges[i][1] + PAD * ys], automargin=False, fixedrange=True)
    if not is_l:
        xa, ya = axn(i)
        vline(xa, ya, i)
layout["annotations"] = annotations
fig.update_layout(**layout)
fig.write_html("out.html", config=dict(displayModeBar=False), post_script="document.body.style.margin='0';")
